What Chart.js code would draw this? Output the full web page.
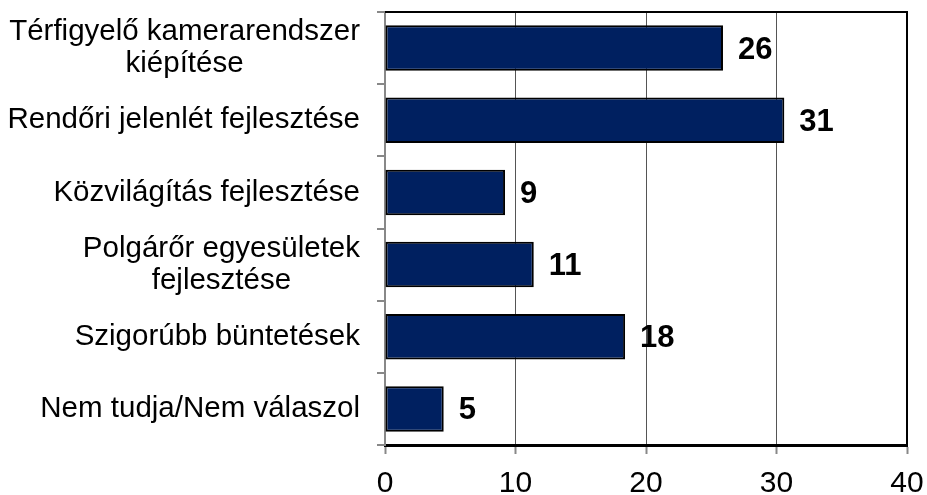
<!DOCTYPE html>
<html>
<head>
<meta charset="utf-8">
<script src="https://cdn.jsdelivr.net/npm/chart.js@4"></script>
<style>
  html, body { margin: 0; padding: 0; background: #fff; }
  #wrap { width: 927px; height: 495px; }
</style>
</head>
<body>
<div id="wrap"><canvas id="chart" width="927" height="495"></canvas></div>
<script>
//----- data -----//
const categories = [
  ['Térfigyelő kamerarendszer', 'kiépítése'],
  ['Rendőri jelenlét fejlesztése'],
  ['Közvilágítás fejlesztése'],
  ['Polgárőr egyesületek', 'fejlesztése'],
  ['Szigorúbb büntetések'],
  ['Nem tudja/Nem válaszol']
];
const values      = [25.9, 30.6, 9.2, 11.4, 18.4, 4.5]; // bar lengths as drawn
const valueLabels = ['26', '31', '9', '11', '18', '5'];  // printed numbers
const xTicks      = [0, 10, 20, 30, 40];

const FONT = '"Liberation Sans", Arial, sans-serif';

//----- category labels: block right aligned, lines centered -----//
const sideLabels = {
  id: 'sideLabels',
  afterDraw(chart) {
    const ctx = chart.ctx;
    const yScale = chart.scales.y;
    const right = yScale.right - 25;
    const lineH = 32;
    ctx.save();
    ctx.font = '29.5px ' + FONT;
    ctx.fillStyle = '#000';
    ctx.textAlign = 'center';
    ctx.textBaseline = 'middle';
    categories.forEach((lines, i) => {
      const y = yScale.getPixelForValue(i);
      const w = Math.max(...lines.map(l => ctx.measureText(l).width));
      const cx = right - w / 2;
      lines.forEach((l, j) => {
        ctx.fillText(l, cx, y + (j - (lines.length - 1) / 2) * lineH);
      });
    });
    // top and right frame
    const a = chart.chartArea;
    ctx.strokeStyle = '#000';
    ctx.lineWidth = 2;
    ctx.beginPath();
    ctx.moveTo(a.left, a.top);
    ctx.lineTo(a.right, a.top);
    ctx.lineTo(a.right, a.bottom);
    ctx.stroke();
    ctx.restore();
  }
};

//----- value labels after the bars -----//
const valueText = {
  id: 'valueText',
  afterDatasetsDraw(chart) {
    const ctx = chart.ctx;
    const meta = chart.getDatasetMeta(0);
    ctx.save();
    ctx.font = 'bold 31px ' + FONT;
    ctx.fillStyle = '#000';
    ctx.textAlign = 'left';
    ctx.textBaseline = 'middle';
    meta.data.forEach((bar, i) => {
      ctx.fillText(valueLabels[i], bar.x + 15, bar.y + 2);
    });
    ctx.restore();
  }
};

new Chart(document.getElementById('chart'), {
  type: 'bar',
  data: {
    labels: categories,
    datasets: [{
      data: values,
      backgroundColor: '#002060',
      borderColor: '#000',
      borderWidth: 2,
      borderSkipped: false,
      barPercentage: 0.63,
      categoryPercentage: 1
    }]
  },
  options: {
    indexAxis: 'y',
    responsive: false,
    animation: false,
    layout: { padding: { top: 12, right: 20, left: 0, bottom: 0 } },
    plugins: { legend: { display: false }, tooltip: { enabled: false } },
    scales: {
      x: {
        min: 0,
        max: 40,
        afterBuildTicks(scale) { scale.ticks = xTicks.map(v => ({ value: v })); },
        afterFit(scale) {
          scale.height = 50;
          scale.paddingLeft = 0;
          scale.paddingRight = 0;
        },
        border: { color: '#000', width: 3 },
        grid: { color: '#555', lineWidth: 1, tickLength: 9, tickColor: '#888', tickWidth: 2 },
        ticks: { color: '#000', font: { family: FONT, size: 30 }, padding: 12 }
      },
      y: {
        afterFit(scale) { scale.width = 385; },
        border: { color: '#888', width: 2 },
        grid: { drawOnChartArea: false, tickLength: 8, color: '#888', lineWidth: 2, offset: true },
        ticks: { display: false }
      }
    }
  },
  plugins: [sideLabels, valueText]
});
</script>
</body>
</html>
